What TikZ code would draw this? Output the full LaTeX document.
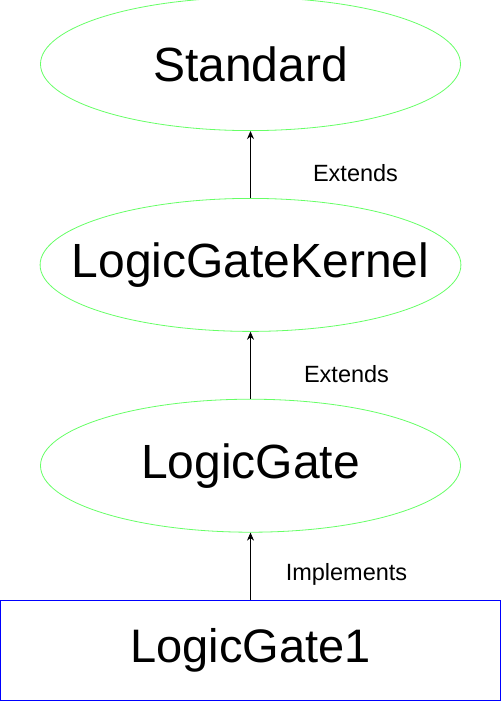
\documentclass[tikz,border=0pt]{standalone}
\usepackage{fontspec}
\setmainfont{Liberation Sans}
\usetikzlibrary{positioning, shapes.geometric, arrows.meta}

\begin{document}
\begin{tikzpicture}[x=1pt,y=-1pt,
  classnode/.style={ellipse,draw=green!60,line width=0.8pt,minimum width=420pt,minimum height=133pt,inner sep=0pt,inner xsep=-30pt,font=\fontsize{48}{56}\selectfont},
  implnode/.style={rectangle,draw=blue,line width=0.8pt,minimum width=500pt,minimum height=100pt,inner sep=0pt,font=\fontsize{47}{56}\selectfont},
  lbl/.style={font=\fontsize{23.5}{28}\selectfont,inner sep=0pt},
  arr/.style={-{Stealth[length=8pt,width=7pt]},line width=0.8pt},
  node distance = 67pt]
\useasboundingbox (0,0) rectangle (501,701);
\node (gate1) [implnode] at (250.5,650) {LogicGate1};
\node (gate) [classnode,above=of gate1] {LogicGate};
\node (kernel) [classnode,above=of gate] {LogicGateKernel};
\node (standard) [classnode,above=of kernel] {Standard};
  \begin{scope}
    \draw [arr] (kernel) -- node [lbl, pos=0.37, xshift=105pt] {Extends} (standard);
    \draw [arr] (gate) -- node [lbl, pos=0.37, xshift=96pt] {Extends} (kernel);
    \draw [arr] (gate1) -- node [lbl, pos=0.37, xshift=96pt] {Implements} (gate);
  \end{scope}
\end{tikzpicture}
\end{document}
